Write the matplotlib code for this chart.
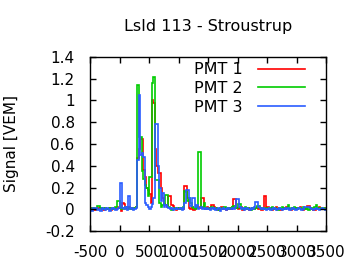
import numpy as np
import matplotlib
matplotlib.use('Agg')
import matplotlib.pyplot as plt
from matplotlib.ticker import FuncFormatter

plt.rcParams['axes.unicode_minus'] = False

# trace binning (ns)
T_START = -500
T_BIN = 25

# PMT 1 (red), one value per 25 ns bin, starting at -500 ns
pmt1 = [
    0.01, 0.00, 0.01, -0.01, 0.00, 0.01, 0.00, 0.01, 0.00, -0.01, 0.01, 0.00, 0.00, 0.01, -0.01, 0.00, 0.01, 0.00, 0.02, 0.01,
    0.01, -0.02, 0.06, 0.05, 0.01, 0.00, 0.02, 0.01, 0.00, 0.01, 0.01, 0.02, 0.47, 0.55, 0.65, 0.65, 0.36, 0.30, 0.20, 0.18,
    0.14, 0.06, 1.00, 0.98, 0.55, 0.40, 0.33, 0.33, 0.20, 0.10, 0.05, 0.04, 0.02, 0.12, 0.12, 0.04, 0.03, 0.00, -0.01, 0.00,
    0.01, 0.00, 0.01, 0.00, 0.21, 0.21, 0.10, 0.01, 0.00, 0.02, -0.01, 0.00, 0.01, 0.02, 0.01, 0.10, 0.10, 0.01, 0.00, 0.02,
    0.01, 0.00, 0.04, 0.04, 0.02, 0.01, -0.01, 0.00, 0.01, 0.02, 0.00, 0.01, -0.01, 0.00, 0.01, 0.00, 0.02, 0.09, 0.09, 0.01,
    0.00, 0.01, 0.02, -0.01, 0.00, 0.01, 0.00, 0.01, -0.01, 0.00, 0.01, 0.00, 0.01, 0.02, 0.00, 0.01, -0.01, 0.00, 0.12, 0.01,
    0.02, 0.00, 0.01, -0.01, 0.00, 0.01, 0.02, 0.00, 0.01, -0.01, 0.00, 0.01, 0.00, 0.02, 0.01, 0.00, -0.01, 0.01, 0.00, 0.01,
    0.00, 0.01, 0.02, 0.00, -0.01, 0.01, 0.00, 0.03, 0.03, 0.01, 0.00, -0.01, -0.01, 0.00, 0.01, 0.02, 0.00, 0.01, 0.00, 0.01,
]

# PMT 2 (green)
pmt2 = [
    0.01, 0.00, 0.01, 0.00, 0.01, 0.03, 0.03, 0.01, 0.00, 0.01, 0.01, 0.00, 0.00, 0.01, 0.01, 0.00, 0.01, 0.02, 0.08, 0.08,
    0.01, 0.00, 0.01, 0.00, 0.02, 0.01, 0.00, 0.01, 0.00, 0.01, 0.01, 0.02, 1.14, 0.66, 0.66, 0.35, 0.28, 0.22, 0.20, 0.12,
    0.30, 0.30, 1.16, 1.22, 0.27, 0.27, 0.27, 0.06, 0.02, 0.04, 0.05, 0.13, 0.13, 0.02, 0.01, -0.01, 0.00, 0.01, 0.00, 0.01,
    0.01, 0.00, 0.01, 0.02, 0.17, 0.16, 0.08, 0.10, 0.06, 0.02, 0.01, 0.00, 0.02, 0.53, 0.53, 0.02, 0.01, 0.06, 0.01, 0.00,
    0.00, 0.01, 0.02, 0.01, 0.00, 0.01, 0.00, -0.01, 0.01, 0.00, 0.01, 0.02, 0.00, 0.01, 0.00, 0.01, 0.02, 0.03, 0.01, 0.01,
    0.05, 0.05, 0.01, 0.00, 0.01, 0.02, 0.00, 0.01, 0.00, -0.01, 0.01, 0.00, 0.01, 0.03, 0.03, 0.01, 0.00, 0.01, 0.00, 0.01,
    0.01, 0.00, 0.01, 0.02, 0.00, 0.01, 0.00, -0.01, 0.01, 0.00, 0.02, 0.01, 0.00, 0.01, 0.04, 0.00, 0.01, 0.00, 0.02, 0.01,
    0.00, 0.01, 0.01, 0.00, 0.02, 0.01, 0.00, 0.01, -0.01, 0.00, 0.01, 0.00, 0.02, 0.04, 0.01, 0.00, 0.01, 0.00, 0.01, 0.00,
]

# PMT 3 (blue)
pmt3 = [
    0.00, -0.02, 0.01, 0.00, 0.01, -0.01, 0.00, -0.02, 0.01, 0.00, -0.01, 0.01, 0.00, -0.02, 0.00, 0.01, 0.00, -0.01, 0.00, 0.01,
    0.24, 0.24, 0.01, 0.00, 0.02, -0.01, 0.12, 0.00, 0.01, -0.01, 0.00, 0.01, 0.45, 1.05, 0.50, 0.52, 0.48, 0.06, 0.04, 0.02,
    0.00, 0.02, 0.05, 0.10, 0.78, 0.78, 0.40, 0.20, 0.08, 0.15, 0.02, 0.04, 0.02, 0.01, 0.00, 0.01, -0.01, 0.00, 0.01, 0.00,
    0.00, 0.01, -0.01, 0.00, 0.06, 0.18, 0.18, 0.10, 0.03, 0.10, 0.10, 0.02, 0.04, 0.00, 0.01, 0.02, 0.00, 0.01, 0.00, 0.01,
    0.00, -0.01, 0.01, 0.00, 0.01, -0.01, 0.00, 0.01, -0.02, 0.00, 0.01, 0.00, -0.01, 0.01, 0.00, 0.00, 0.01, 0.00, 0.02, 0.09,
    0.09, 0.02, 0.00, 0.01, -0.01, 0.00, 0.01, 0.00, -0.01, 0.01, 0.00, 0.02, 0.07, 0.07, 0.02, 0.01, 0.00, 0.01, 0.00, -0.01,
    0.00, 0.01, -0.01, 0.00, 0.01, 0.00, -0.01, 0.00, 0.01, 0.00, -0.01, 0.00, 0.01, 0.00, 0.01, -0.01, 0.00, 0.01, 0.00, -0.01,
    0.00, 0.01, 0.00, -0.01, 0.00, 0.02, 0.02, 0.02, 0.02, 0.01, 0.00, -0.01, 0.00, 0.01, 0.00, -0.01, 0.00, 0.01, 0.00, -0.01,
]

labels = ['PMT 1', 'PMT 2', 'PMT 3']
colors = ['#ff0000', '#00cc00', '#2a5cff']
title = 'LsId 113 - Stroustrup'

edges = T_START + T_BIN * np.arange(len(pmt1) + 1)

fig = plt.figure(figsize=(3.6, 2.7), dpi=100)
ax = fig.add_axes([0.25, 0.1444, 0.656, 0.6446])

for vals, lab, col in zip([pmt1, pmt2, pmt3], labels, colors):
    ax.stairs(vals, edges, color=col, lw=1.2, label=lab, baseline=None)

ax.set_xlim(-500, 3500)
ax.set_ylim(-0.2, 1.4)
ax.set_xticks(np.arange(-500, 3501, 500))
ax.set_yticks(np.arange(-0.2, 1.41, 0.2))
ax.yaxis.set_major_formatter(FuncFormatter(lambda v, p: '%g' % round(v, 2)))
ax.tick_params(direction='in', top=True, right=True, length=4, width=1,
               labelsize=11)
ax.tick_params(axis='x', pad=10)
ax.tick_params(axis='y', pad=11)
for s in ax.spines.values():
    s.set_linewidth(1)

ax.set_ylabel('Signal [VEM]', fontsize=11)
ax.yaxis.set_label_coords(-0.30, 0.5)
fig.text(0.578, 0.90, title, ha='center', va='center', fontsize=11.5)

leg = ax.legend(loc='upper right', frameon=False, markerfirst=False,
                fontsize=11.5, handlelength=2.95, handletextpad=0.95,
                labelspacing=0.22, borderaxespad=0.0,
                bbox_to_anchor=(0.937, 1.005))

fig.savefig('out.png', dpi=100)
